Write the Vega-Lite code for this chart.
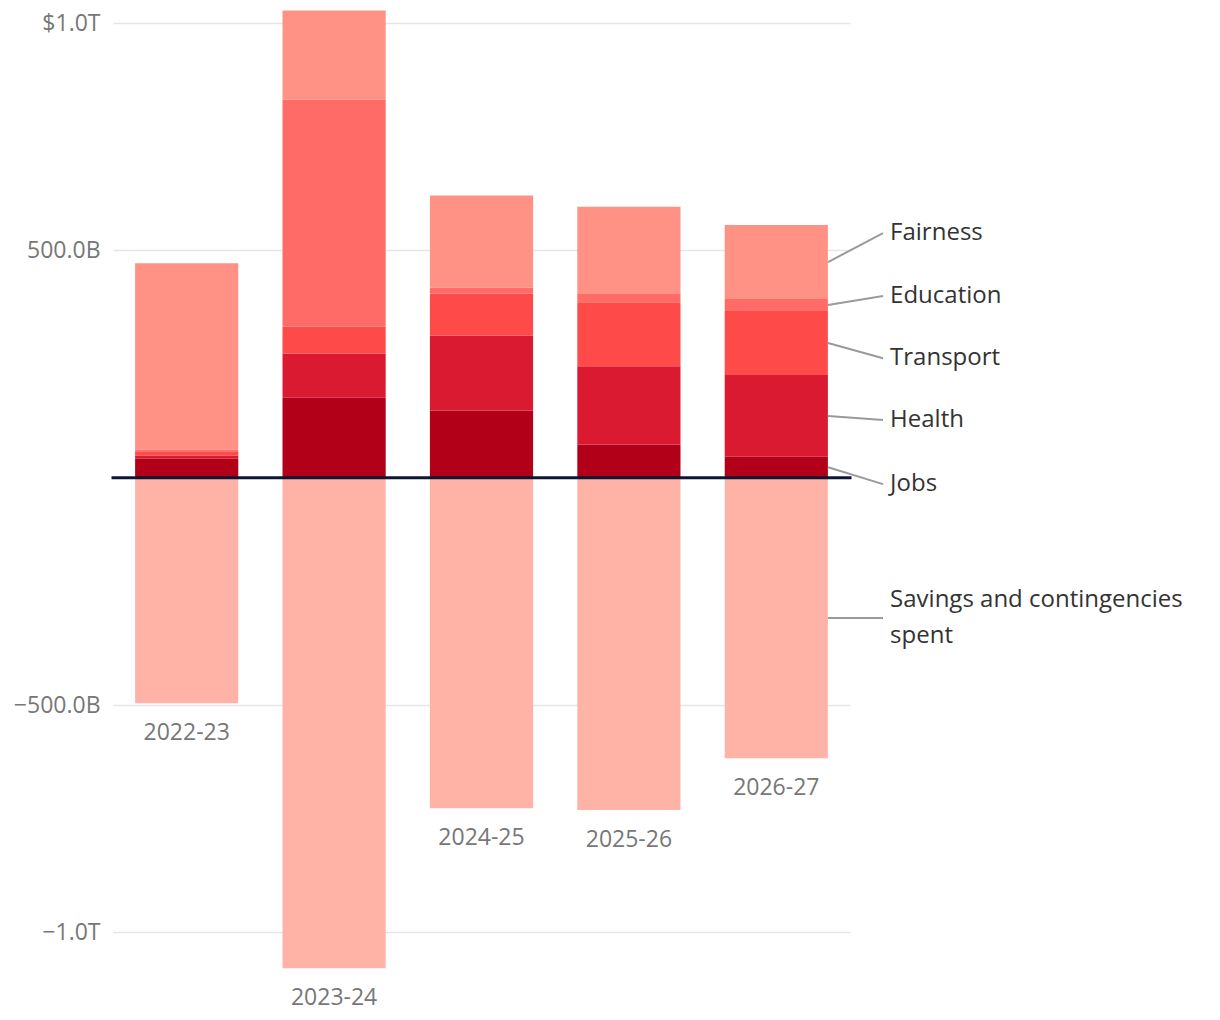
{
  "$schema": "https://vega.github.io/schema/vega-lite/v6.json",
  "width": 737,
  "height": 995,
  "autosize": "none",
  "padding": {"left": 113, "top": 5, "right": 370, "bottom": 20},
  "background": "white",
  "config": {"view": {"stroke": null}, "font": "Open Sans"},
  "datasets": {
    "budget": [
      {"year": "2022-23", "category": "Jobs", "value": 42, "rank": 1},
      {"year": "2022-23", "category": "Health", "value": 7, "rank": 2},
      {"year": "2022-23", "category": "Transport", "value": 9, "rank": 3},
      {"year": "2022-23", "category": "Education", "value": 4, "rank": 4},
      {"year": "2022-23", "category": "Fairness", "value": 410, "rank": 5},
      {"year": "2022-23", "category": "Savings and contingencies spent", "value": -496, "rank": 0},
      {"year": "2023-24", "category": "Jobs", "value": 176, "rank": 1},
      {"year": "2023-24", "category": "Health", "value": 97, "rank": 2},
      {"year": "2023-24", "category": "Transport", "value": 59, "rank": 3},
      {"year": "2023-24", "category": "Education", "value": 500, "rank": 4},
      {"year": "2023-24", "category": "Fairness", "value": 196, "rank": 5},
      {"year": "2023-24", "category": "Savings and contingencies spent", "value": -1079, "rank": 0},
      {"year": "2024-25", "category": "Jobs", "value": 148, "rank": 1},
      {"year": "2024-25", "category": "Health", "value": 165, "rank": 2},
      {"year": "2024-25", "category": "Transport", "value": 92, "rank": 3},
      {"year": "2024-25", "category": "Education", "value": 13, "rank": 4},
      {"year": "2024-25", "category": "Fairness", "value": 203, "rank": 5},
      {"year": "2024-25", "category": "Savings and contingencies spent", "value": -727, "rank": 0},
      {"year": "2025-26", "category": "Jobs", "value": 73, "rank": 1},
      {"year": "2025-26", "category": "Health", "value": 172, "rank": 2},
      {"year": "2025-26", "category": "Transport", "value": 141, "rank": 3},
      {"year": "2025-26", "category": "Education", "value": 18, "rank": 4},
      {"year": "2025-26", "category": "Fairness", "value": 192, "rank": 5},
      {"year": "2025-26", "category": "Savings and contingencies spent", "value": -731, "rank": 0},
      {"year": "2026-27", "category": "Jobs", "value": 46, "rank": 1},
      {"year": "2026-27", "category": "Health", "value": 180, "rank": 2},
      {"year": "2026-27", "category": "Transport", "value": 141, "rank": 3},
      {"year": "2026-27", "category": "Education", "value": 26, "rank": 4},
      {"year": "2026-27", "category": "Fairness", "value": 163, "rank": 5},
      {"year": "2026-27", "category": "Savings and contingencies spent", "value": -617, "rank": 0}
    ],
    "annotations": [
      {"label": "Fairness", "barMid": 474.5, "lineEnd": 538, "labelY": 538},
      {"label": "Education", "barMid": 380, "lineEnd": 400, "labelY": 400},
      {"label": "Transport", "barMid": 296.5, "lineEnd": 263, "labelY": 263},
      {"label": "Health", "barMid": 136, "lineEnd": 127, "labelY": 127},
      {"label": "Jobs", "barMid": 23, "lineEnd": -14, "labelY": -14},
      {"label": "Savings and contingencies\nspent", "barMid": -308.5, "lineEnd": -308.5, "labelY": -269}
    ],
    "zeroLine": [{"from": 0, "to": 5, "value": 0}]
  },
  "layer": [
    {
      "data": {"name": "budget"},
      "mark": {"type": "bar"},
      "encoding": {
        "x": {
          "field": "year", "type": "nominal", "axis": null,
          "scale": {"paddingInner": 0.3, "paddingOuter": 0.15}
        },
        "y": {
          "field": "value", "type": "quantitative", "stack": "zero",
          "scale": {"domain": [-1149, 1040], "nice": false, "zero": false},
          "axis": {
            "values": [-1000, -500, 500, 1000],
            "labelExpr": "datum.value == 1000 ? '$1.0T' : datum.value == 500 ? '500.0B' : datum.value == -500 ? '−500.0B' : '−1.0T'",
            "title": null, "domain": false, "ticks": false, "grid": true,
            "gridColor": "#e6e6e6", "gridWidth": 1.5,
            "labelFontSize": 23, "labelColor": "#777777", "labelPadding": 13,
            "labelFont": "Open Sans"
          }
        },
        "color": {
          "field": "category", "type": "nominal", "legend": null,
          "scale": {
            "domain": ["Jobs", "Health", "Transport", "Education", "Fairness", "Savings and contingencies spent"],
            "range": ["#b10018", "#d91a31", "#ff4a4a", "#ff6b66", "#ff9185", "#ffb3a7"]
          }
        },
        "order": {"field": "rank", "type": "quantitative"}
      }
    },
    {
      "data": {"name": "budget"},
      "transform": [{"filter": "datum.category == 'Savings and contingencies spent'"}],
      "mark": {"type": "text", "fontSize": 23, "color": "#777777", "baseline": "middle", "align": "center", "dy": 30, "font": "Open Sans"},
      "encoding": {
        "x": {"field": "year", "type": "nominal", "axis": null, "scale": {"paddingInner": 0.3, "paddingOuter": 0.15}},
        "y": {"field": "value", "type": "quantitative"},
        "text": {"field": "year"}
      }
    },
    {
      "data": {"name": "zeroLine"},
      "mark": {"type": "rule", "color": "#0d1635", "strokeWidth": 3, "strokeCap": "square"},
      "encoding": {
        "x": {"field": "from", "type": "quantitative", "scale": {"domain": [0, 5], "nice": false, "zero": false}, "axis": null},
        "x2": {"field": "to"},
        "y": {"field": "value", "type": "quantitative"}
      }
    },
    {
      "data": {"name": "annotations"},
      "mark": {"type": "rule", "color": "#9a9a9a", "strokeWidth": 2},
      "encoding": {
        "x": {"datum": 4.851, "type": "quantitative", "scale": {"domain": [0, 5], "nice": false, "zero": false}, "axis": null},
        "x2": {"datum": 5.224},
        "y": {"field": "barMid", "type": "quantitative"},
        "y2": {"field": "lineEnd"}
      }
    },
    {
      "data": {"name": "annotations"},
      "mark": {"type": "text", "fontSize": 24, "color": "#333333", "align": "left", "baseline": "middle", "lineBreak": "\n", "lineHeight": 36, "font": "Open Sans"},
      "encoding": {
        "x": {"datum": 5.272, "type": "quantitative", "scale": {"domain": [0, 5], "nice": false, "zero": false}, "axis": null},
        "y": {"field": "labelY", "type": "quantitative"},
        "text": {"field": "label"}
      }
    }
  ],
  "resolve": {"scale": {"x": "independent"}}
}
